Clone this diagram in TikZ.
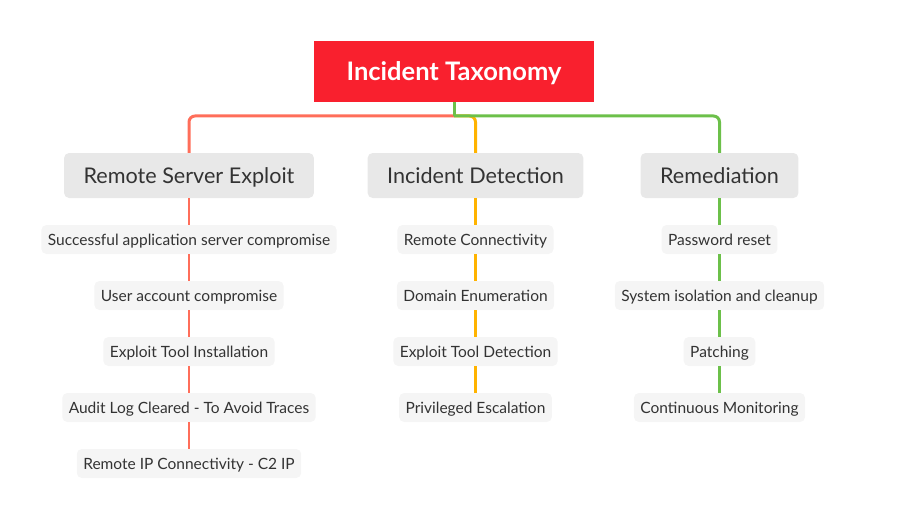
\documentclass[tikz,border=0pt]{standalone}
\usepackage{fontspec}
\setmainfont{Lato}
\usepackage{xcolor}
\definecolor{rootred}{HTML}{F9202E}
\definecolor{branchred}{HTML}{FF6E5A}
\definecolor{branchorange}{HTML}{FFB300}
\definecolor{branchgreen}{HTML}{6CC04A}
\definecolor{topicgray}{HTML}{E8E8E8}
\definecolor{leafgray}{HTML}{F5F5F5}
\definecolor{txt}{HTML}{333333}
\begin{document}
\begin{tikzpicture}[x=1pt,y=-1pt,root/.style={fill=rootred,text=white,font=\bfseries\fontsize{25.5}{30}\selectfont,minimum width=280pt,minimum height=61pt,inner sep=0pt,text height=18.3pt,text depth=0pt},topic/.style={fill=topicgray,text=txt,rounded corners=5pt,font=\fontsize{21.6}{25}\selectfont,minimum height=45pt,inner xsep=19.5pt,inner ysep=0pt,text height=15.5pt,text depth=0pt},leaf/.style={fill=leafgray,text=txt,rounded corners=5pt,font=\fontsize{15.5}{18}\selectfont,minimum height=29pt,inner xsep=6.5pt,inner ysep=0pt,text height=11.1pt,text depth=0pt},trunk/.style={#1,line width=3pt,rounded corners=6pt},twig/.style={#1,line width=2.5pt}]
\useasboundingbox (0,0) rectangle (898,519);
\node[root] (tax) at (454,71.5) {Incident Taxonomy};
\node[topic] (rse) at (189,175.5) {Remote Server Exploit};
\node[topic] (ide) at (475.5,175.5) {Incident Detection};
\node[topic] (rem) at (719.5,175.5) {Remediation};
\coordinate (hub) at (454,116);
\draw[trunk=branchorange] (hub) -| (ide.north);
\draw[trunk=branchred] (hub) -| (rse.north);
\draw[trunk=branchgreen] (hub) -| (rem.north);
\draw[trunk=branchgreen] (tax.south) -- (hub);
\foreach \n/\t [count=\i] in %
{r1/Successful application server compromise,r2/User account compromise,r3/Exploit Tool Installation,r4/Audit Log Cleared - To Avoid Traces,r5/Remote IP Connectivity - C2 IP} {
   \node[leaf] (\n) at (189,183.5+56*\i) {\t};
}
\foreach \n/\t [count=\i] in %
{d1/Remote Connectivity,d2/Domain Enumeration,d3/Exploit Tool Detection,d4/Privileged Escalation} {
   \node[leaf] (\n) at (475.5,183.5+56*\i) {\t};
}
\foreach \n/\t [count=\i] in %
{m1/Password reset,m2/System isolation and cleanup,m3/Patching,m4/Continuous Monitoring} {
   \node[leaf] (\n) at (719.5,183.5+56*\i) {\t};
}
\foreach \a/\b in {rse/r1,r1/r2,r2/r3,r3/r4,r4/r5} \draw[twig=branchred] (\a.south) -- (\b.north);
\foreach \a/\b in {ide/d1,d1/d2,d2/d3,d3/d4} \draw[twig=branchorange] (\a.south) -- (\b.north);
\foreach \a/\b in {rem/m1,m1/m2,m2/m3,m3/m4} \draw[twig=branchgreen] (\a.south) -- (\b.north);
\end{tikzpicture}
\end{document}
